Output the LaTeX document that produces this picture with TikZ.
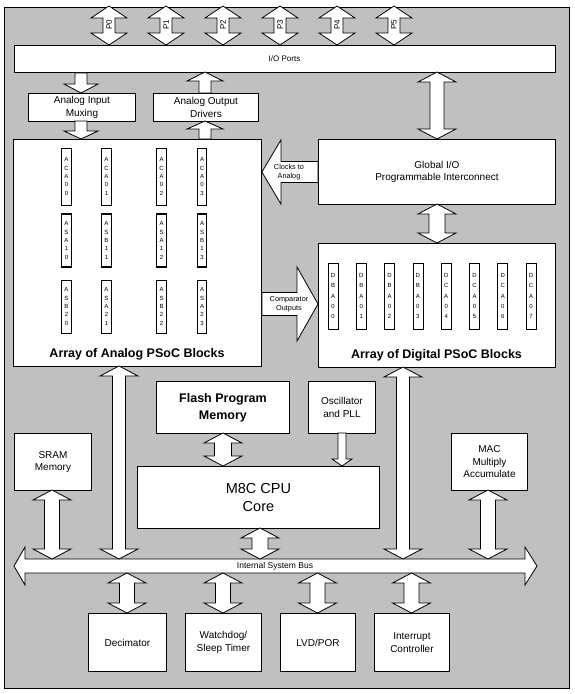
\documentclass[tikz,border=0pt]{standalone}
\usepackage{fontspec}
\setmainfont{Liberation Sans}
\usetikzlibrary{calc}
\definecolor{bg}{RGB}{192,192,192}
\tikzset{
  box/.style={draw=black, fill=white, line width=0.9pt, align=center, inner sep=0pt,
              anchor=north west, font=\fontsize{10}{12.5}\selectfont},
  arr/.style={draw=black, fill=white, line width=0.8pt, line join=miter},
  small/.style={font=\fontsize{8}{9}\selectfont, inner sep=0pt, align=center},
  tinyl/.style={font=\fontsize{7.3}{9.5}\selectfont, inner sep=0pt, align=center},
  title/.style={font=\bfseries\fontsize{12.5}{14}\selectfont, inner sep=0pt, align=center},
  ablk/.style={draw=black, fill=white, line width=0.7pt, inner sep=0pt, minimum width=9.5pt,
               align=center, font=\fontsize{6}{8.3}\selectfont},
  dblk/.style={draw=black, fill=white, line width=0.7pt, inner sep=0pt, minimum width=10pt,
               minimum height=66pt, align=center, font=\fontsize{6}{10.4}\selectfont},
}
% vertical double arrow: x, top anchor, bottom anchor, shaft half, head half, head length
\newcommand\vdarr[6]{\path[arr] let \p1=(#2), \p2=(#3) in
  (#1pt,\y1) -- (#1pt+#5pt,\y1-#6pt) -- (#1pt+#4pt,\y1-#6pt) -- (#1pt+#4pt,\y2+#6pt)
  -- (#1pt+#5pt,\y2+#6pt) -- (#1pt,\y2) -- (#1pt-#5pt,\y2+#6pt) -- (#1pt-#4pt,\y2+#6pt)
  -- (#1pt-#4pt,\y1-#6pt) -- (#1pt-#5pt,\y1-#6pt) -- cycle;}
% vertical single arrow pointing down: x, tail anchor (top), tip anchor (bottom), ...
\newcommand\vdown[6]{\path[arr] let \p1=(#2), \p2=(#3) in
  (#1pt-#4pt,\y1) -- (#1pt+#4pt,\y1) -- (#1pt+#4pt,\y2+#6pt) -- (#1pt+#5pt,\y2+#6pt)
  -- (#1pt,\y2) -- (#1pt-#5pt,\y2+#6pt) -- (#1pt-#4pt,\y2+#6pt) -- cycle;}
% vertical single arrow pointing up: x, tail anchor (bottom), tip anchor (top), ...
\newcommand\vupw[6]{\path[arr] let \p1=(#2), \p2=(#3) in
  (#1pt-#4pt,\y1) -- (#1pt+#4pt,\y1) -- (#1pt+#4pt,\y2-#6pt) -- (#1pt+#5pt,\y2-#6pt)
  -- (#1pt,\y2) -- (#1pt-#5pt,\y2-#6pt) -- (#1pt-#4pt,\y2-#6pt) -- cycle;}
% horizontal single arrow: y (pixel), tail anchor, tip anchor, shaft half, head half, head length, dir(+1 right / -1 left)
\newcommand\harr[7]{\path[arr] let \p1=(#2), \p2=(#3) in
  (\x1,-#1pt+#4pt) -- (\x2-#7*#6pt,-#1pt+#4pt) -- (\x2-#7*#6pt,-#1pt+#5pt) -- (\x2,-#1pt)
  -- (\x2-#7*#6pt,-#1pt-#5pt) -- (\x2-#7*#6pt,-#1pt-#4pt) -- (\x1,-#1pt-#4pt) -- cycle;}
\begin{document}
\begin{tikzpicture}[x=1pt,y=-1pt]
\useasboundingbox (0,0) rectangle (575,694);
\fill[white] (0,0) rectangle (575,694);
\filldraw[fill=bg, draw=black, line width=0.9pt] (4,7) rectangle (569,688);

% I/O ports and port arrows
\node[box, minimum width=541pt, minimum height=27pt] (io) at (14,45) {};
\node[small] (iol) at (284.5,58.5) {I/O Ports};
\foreach \i in {0,...,5}{
  \pgfmathsetmacro\px{109+57*\i}
  \coordinate (pt\i) at (\px,6);
  \coordinate (pb\i) at (\px,45);
  \vdarr{\px}{pt\i}{pb\i}{6}{18}{12}
  \node[small, rotate=90] (pl\i) at (\px,25) {P\i};
}

% analog in/out
\node[box, minimum width=107pt, minimum height=28pt] (aim) at (28,93) {Analog Input\\Muxing};
\node[box, minimum width=105pt, minimum height=28pt] (aod) at (153,93) {Analog Output\\Drivers};

% analog array
\node[box, minimum width=248pt, minimum height=227pt] (aa) at (13,139) {};
\node[title] (aat) at (137,354) {Array of Analog PSoC Blocks};

% global io and digital array
\node[box, minimum width=237pt, minimum height=65pt] (gio) at (318,139) {Global I/O\\Programmable Interconnect};
\node[box, minimum width=237pt, minimum height=124pt] (da) at (318,243) {};
\node[title] (dat) at (436.5,355) {Array of Digital PSoC Blocks};

% analog blocks
\foreach \c/\cx in {0/66.5,1/106.5,2/161.5,3/202}{
  \node[ablk, minimum height=57pt] (ac\c) at (\cx,176.5) {A\\C\\A\\0\\\c};
}
\node[ablk, minimum height=53pt, line width=1.4pt] (as10) at (66.5,240.5) {A\\S\\A\\1\\0};
\node[ablk, minimum height=53pt, line width=1.4pt] (as11) at (106.5,240.5) {A\\S\\B\\1\\1};
\node[ablk, minimum height=53pt, line width=1.4pt] (as12) at (161.5,240.5) {A\\S\\A\\1\\2};
\node[ablk, minimum height=53pt, line width=1.4pt] (as13) at (202,240.5) {A\\S\\B\\1\\3};
\node[ablk, minimum height=53pt] (as20) at (66.5,306.5) {A\\S\\B\\2\\0};
\node[ablk, minimum height=53pt] (as21) at (106.5,306.5) {A\\S\\A\\2\\1};
\node[ablk, minimum height=53pt] (as22) at (161.5,306.5) {A\\S\\B\\2\\2};
\node[ablk, minimum height=53pt] (as23) at (202,306.5) {A\\S\\A\\2\\3};

% digital blocks
\foreach \i/\t in {0/B,1/B,2/B,3/B,4/C,5/C,6/C,7/C}{
  \pgfmathsetmacro\dx{333+28.3*\i}
  \node[dblk] (db\i) at (\dx,296) {D\\\t\\A\\0\\\i};
}

% connectors top
\vdown{81}{io.south}{aim.north}{6}{17}{9}
\coordinate (aimb) at (81,121);
\coordinate (aat0) at (81,139);
\vdown{81}{aimb}{aat0}{6}{17}{8}
\coordinate (aodt) at (205,93);
\coordinate (iob2) at (205,72);
\vupw{205}{aodt}{iob2}{6}{18}{9}
\coordinate (aat1) at (205,139);
\coordinate (aodb) at (205,121);
\vupw{205}{aat1}{aodb}{6}{18}{8}
\coordinate (iob3) at (437,72);
\coordinate (giot) at (437,139);
\vdarr{437}{iob3}{giot}{7}{19}{10}
\coordinate (giob) at (437,204);
\coordinate (dat0) at (437,243);
\vdarr{437}{giob}{dat0}{8}{19}{10}

% clocks / comparator
\harr{172}{gio.west}{aa.east}{10.5}{32}{19}{-1}
\node[tinyl] (clk) at (289,172) {Clocks to\\Analog};
\harr{304}{aa.east}{da.west}{11.5}{37}{21}{1}
\node[tinyl] (cmp) at (289,304) {Comparator\\Outputs};

% middle boxes
\node[box, font=\bfseries\fontsize{12.5}{17}\selectfont, minimum width=133pt, minimum height=52pt] (fl) at (156,381) {Flash Program\\Memory};
\node[box, minimum width=67pt, minimum height=52pt] (osc) at (308,381) {Oscillator\\and PLL};
\node[box, font=\fontsize{14.5}{18}\selectfont, minimum width=242pt, minimum height=62pt] (cpu) at (137,466) {M8C CPU\\Core};
\node[box, minimum width=77pt, minimum height=57pt] (sram) at (14,433) {SRAM\\Memory};
\node[box, minimum width=76pt, minimum height=57pt] (mac) at (451,433) {MAC\\Multiply\\Accumulate};

% bus
\coordinate (busL) at (14,566);
\coordinate (busR) at (537,566);
\path[arr] (busL) -- (25,547) -- (25,559) -- (525,559) -- (525,547) -- (busR)
  -- (525,585) -- (525,573) -- (25,573) -- (25,585) -- cycle;
\node[font=\fontsize{8.5}{10}\selectfont, inner sep=0pt] (busl) at (275,566) {Internal System Bus};

% bottom boxes
\node[box, minimum width=78pt, minimum height=58pt] (dec) at (88,613) {Decimator};
\node[box, minimum width=76pt, minimum height=58pt] (wdt) at (185,613) {Watchdog/\\Sleep Timer};
\node[box, minimum width=75pt, minimum height=58pt] (lvd) at (280,613) {LVD/POR};
\node[box, minimum width=75pt, minimum height=58pt] (irq) at (374,613) {Interrupt\\Controller};

% vertical connectors to bus
\coordinate (bt1) at (119,559);
\coordinate (bt2) at (403,559);
\coordinate (aab) at (119,366);
\coordinate (dab) at (403,367);
\vdarr{119}{aab}{bt1}{6.5}{19}{10}
\vdarr{403}{dab}{bt2}{6.5}{19}{10}
\coordinate (flb) at (223,433);
\coordinate (cput) at (223,466);
\vdarr{223}{flb}{cput}{8.5}{19}{10}
\coordinate (oscb) at (342,433);
\coordinate (cput2) at (342,466);
\vdown{342}{oscb}{cput2}{4}{10}{7}
\coordinate (cpub) at (260,528);
\coordinate (bt3) at (260,559);
\vdarr{260}{cpub}{bt3}{8}{19}{10}
\coordinate (sramb) at (52,490);
\coordinate (bt4) at (52,559);
\vdarr{52}{sramb}{bt4}{7.5}{19}{10}
\coordinate (macb) at (488,490);
\coordinate (bt5) at (488,559);
\vdarr{488}{macb}{bt5}{7.5}{19}{10}
\foreach \bn/\bxx in {dec/127,wdt/223,lvd/317.5,irq/411.5}{
  \coordinate (bb\bn) at (\bxx,573);
  \coordinate (bx\bn) at (\bxx,613);
  \vdarr{\bxx}{bb\bn}{bx\bn}{7.5}{19}{10}
}
\end{tikzpicture}
\end{document}
